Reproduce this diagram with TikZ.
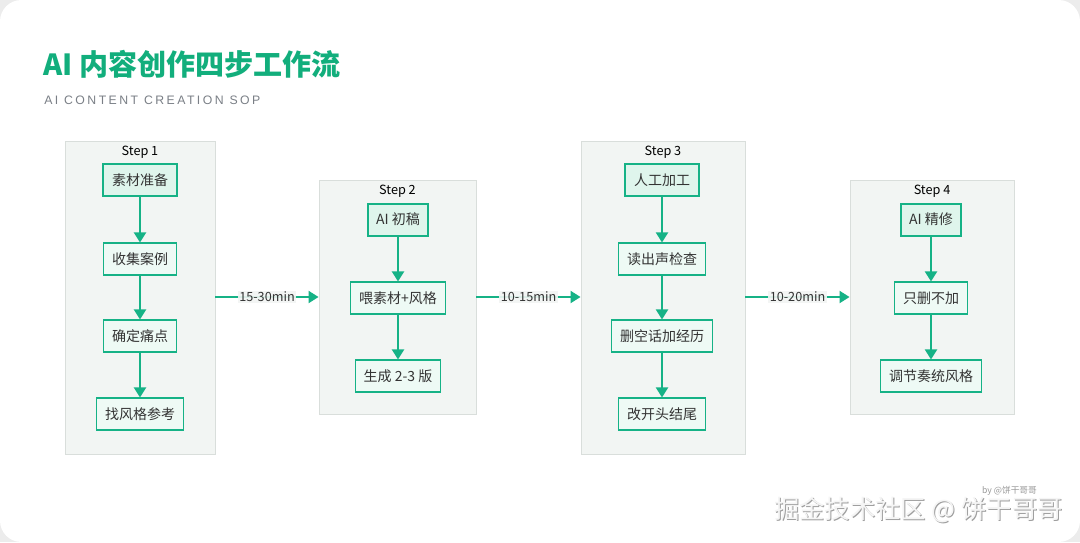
\documentclass[tikz,border=0pt]{standalone}
\usepackage{fontspec}
\setmainfont{Noto Sans CJK SC}
\newfontfamily\subfont[LetterSpace=20]{Liberation Sans}
\usetikzlibrary{arrows.meta,positioning}
\definecolor{accent}{HTML}{16B286}
\definecolor{titlegreen}{HTML}{12AE7C}
\definecolor{clfill}{HTML}{F2F5F3}
\definecolor{clborder}{HTML}{D9DEDB}
\definecolor{boxfill}{HTML}{EEFAF5}
\definecolor{headfill}{HTML}{DFF5EC}
\definecolor{txt}{HTML}{333333}
\definecolor{subgray}{HTML}{7A7F86}
\definecolor{outbg}{HTML}{ECECEC}
\tikzset{
  cluster/.style={draw=clborder, fill=clfill, line width=0.7pt, inner sep=0pt},
  steplabel/.style={font=\fontsize{9.5}{11}\selectfont, text=black, anchor=north, inner sep=0pt},
  stepbox/.style={draw=accent, fill=boxfill, line width=0.8pt, font=\fontsize{10.5}{12}\selectfont, text=txt, inner xsep=6.4pt, inner ysep=0pt, minimum height=24pt},
  headbox/.style={stepbox, fill=headfill, line width=1.5pt},
  flow/.style={draw=accent, line width=1.5pt, -{Triangle[length=7.5pt,width=9pt]}},
  tlabel/.style={fill=clfill, fill opacity=0.9, text opacity=1, font=\fontsize{9.5}{11}\selectfont, text=txt, inner sep=1pt}
}
\begin{document}
\begin{tikzpicture}[x=0.75pt,y=-0.75pt]
\useasboundingbox (0,0) rectangle (1080,542);
\fill[outbg] (0,0) rectangle (1080,542);
\fill[white, rounded corners=16pt] (0,0) rectangle (1080,542);

% title
\node[anchor=west, inner sep=0pt, text=titlegreen, font=\fontsize{21.8}{25}\selectfont\bfseries] (title) at (43,64) {AI 内容创作四步工作流};
\node[anchor=west, inner sep=0pt, text=subgray, font=\subfont\fontsize{9.2}{11}\selectfont] (subtitle) at (44,100) {AI CONTENT CREATION SOP};

% clusters
\node[cluster, minimum width=112.5pt, minimum height=234.75pt] (c1) at (140,297.5) {};
\node[cluster, minimum width=117.75pt, minimum height=175.5pt] (c2) at (397.5,297) {};
\node[cluster, minimum width=123pt, minimum height=234.75pt] (c3) at (663,297.5) {};
\node[cluster, minimum width=123pt, minimum height=175.5pt] (c4) at (932,297) {};

\node[steplabel] (l1) at ([yshift=-3.8pt]c1.north) {Step 1};
\node[steplabel] (l2) at ([yshift=-3.8pt]c2.north) {Step 2};
\node[steplabel] (l3) at ([yshift=-3.8pt]c3.north) {Step 3};
\node[steplabel] (l4) at ([yshift=-3.8pt]c4.north) {Step 4};

% step 1
\node[headbox] (a1) at (140,180) {素材准备};
\node[stepbox] (a2) at (140,259) {收集案例};
\node[stepbox] (a3) at (140,336) {确定痛点};
\node[stepbox] (a4) at (140,414) {找风格参考};
% step 2
\node[headbox] (b1) at (398,219.5) {AI 初稿};
\node[stepbox] (b2) at (398,298) {喂素材+风格};
\node[stepbox] (b3) at (398,376) {生成 2-3 版};
% step 3
\node[headbox] (d1) at (662,180) {人工加工};
\node[stepbox] (d2) at (662,259) {读出声检查};
\node[stepbox] (d3) at (662,336) {删空话加经历};
\node[stepbox] (d4) at (662,414) {改开头结尾};
% step 4
\node[headbox] (e1) at (931,219.5) {AI 精修};
\node[stepbox] (e2) at (931,298) {只删不加};
\node[stepbox] (e3) at (931,376) {调节奏统风格};

\draw[flow] (a1) -- (a2);
\draw[flow] (a2) -- (a3);
\draw[flow] (a3) -- (a4);
\draw[flow] (b1) -- (b2);
\draw[flow] (b2) -- (b3);
\draw[flow] (d1) -- (d2);
\draw[flow] (d2) -- (d3);
\draw[flow] (d3) -- (d4);
\draw[flow] (e1) -- (e2);
\draw[flow] (e2) -- (e3);

\draw[flow] (c1.east |- 0,297) -- node[tlabel] (t1) {15-30min} (c2.west);
\draw[flow] (c2.east) -- node[tlabel] (t2) {10-15min} (c3.west |- 0,297);
\draw[flow] (c3.east |- 0,297) -- node[tlabel] (t3) {10-20min} (c4.west);

% watermark
\node[anchor=east, inner sep=0pt, text=gray!80, font=\fontsize{6.5}{8}\selectfont] (by) at (1037,491) {by @饼干哥哥};
\node[anchor=east, inner sep=0pt, text=gray!75, font=\fontsize{19}{22}\selectfont] (wm0) at (1064.2,511.2) {掘金技术社区 @ 饼干哥哥};
\node[anchor=east, inner sep=0pt, text=white!96!black, font=\fontsize{19}{22}\selectfont] (wm) at (1063,510) {掘金技术社区 @ 饼干哥哥};
\end{tikzpicture}
\end{document}
